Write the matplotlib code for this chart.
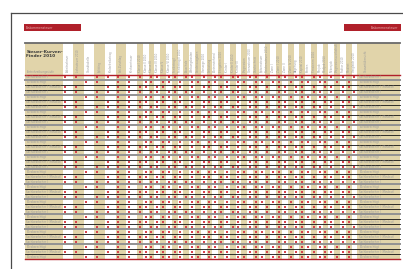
import matplotlib

matplotlib.use("Agg")

import matplotlib.pyplot as plt
from matplotlib.patches import Rectangle

# --- data -------------------------------------------------------------
TITLE = "Steuer-Kurven-\nFinder 2010"
SECTION = "Einkommensteuer"
HEADER_NOTE = "Fortschreibungsstufe"

wide_labels = [
    "Arbeitnehmer", "Lohnsteuer 2010", "Grundtabelle", "Splitting",
    "Kinderfreibetrag", "Soli-Zuschlag", "Kirchensteuer",
]
narrow_labels = [
    "Klasse I 2010", "Klasse II 2010", "Klasse III", "Klasse IV 2010",
    "Klasse V", "Klasse VI 2010", "Freibetrag I", "Freibetrag II 2010",
    "Pauschale", "Werbungskosten", "Sonderausgaben", "Vorsorge 2010",
    "Entlastung", "Alleinerziehend", "Ehegatten 2010", "Kinder I",
    "Kinder II 2010", "Kinder III", "Progression", "Grenzsteuer 2010",
    "Durchschnitt", "Spitzensteuer", "Reichensteuer 2010", "Zone I",
    "Zone II 2010", "Zone III", "Zone IV 2010", "Abgeltung",
    "Kapital 2010", "Renten", "Pensionen 2010", "Minijob",
    "Midijob 2010", "Nebenjob", "Progressionsvorbehalt", "Faktor 2010",
    "Mindest", "Vergleich 2010",
]
LAST_LABEL = "Gesamtübersicht"

row_kind_labels = [
    "Sachbearbeiter I",
    "Büroberechtigt",
    "Sachbearbeiter I (Mindest)",
]
# kind of each table row (0, 1, 2 -> label + dot pattern)
row_kinds = [
    0, 1, 2, 0, 1, 2, 0, 1, 2, 0, 1, 2, 0, 1, 2, 0, 1, 2, 0,
    1, 2, 0, 1, 2, 0, 1, 2, 0, 1, 2, 0, 1, 2, 0, 1, 2, 1,
]
# 'x' = marked cell, 7 wide columns then 38 narrow columns
dot_patterns = [
    "xx.xxxx" + "x.xx.xx.xx.x.xx.xx.xx.x.xx.xx.xx.x.x.x",
    "..xx.xx" + ".xx.xx.x.xx.xx.x.xx.xx.xx.x.xx.xx.x.x.",
    "xx..xxx" + "xx.xx.xx.x.xx.xx.x.xx.x.xx.xx.x.xx.xx.",
]
# separator drawn under each row: 'k' black, 'g' gray band
separators = "gkkgkkgkkgkkgkkgkkgkkgkkgkkgkkgkkgkk"

# --- layout -----------------------------------------------------------
W, H = 403, 269
TAN = "#e1d4aa"
RED = "#b0202a"
GRAY = "#929292"
TXT = "#9a9a9a"

x0, label_w = 25.0, 37.5
wide_w, narrow_w = 10.64, 5.80
right_w = 43.0
top, head_bot, bot = 43.0, 75.0, 259.0

col_lefts, col_widths = [], []
x = x0 + label_w
for _ in wide_labels:
    col_lefts.append(x)
    col_widths.append(wide_w)
    x += wide_w
for _ in narrow_labels:
    col_lefts.append(x)
    col_widths.append(narrow_w)
    x += narrow_w
right_x = x
table_right = right_x + right_w
col_labels = wide_labels + narrow_labels
n_rows = len(row_kinds)
row_h = (bot - head_bot) / n_rows

fig = plt.figure(figsize=(W / 100, H / 100), dpi=100)
ax = fig.add_axes([0, 0, 1, 1])
ax.set_xlim(0, W)
ax.set_ylim(H, 0)
ax.axis("off")

# page frame
ax.plot([10.5, W], [12.5, 12.5], color="#4a4a4a", lw=0.9)
ax.plot([10.5, 10.5], [12.5, H], color="#4a4a4a", lw=0.9)

# section tabs
ax.add_patch(Rectangle((24, 24), 57, 7, color=RED, lw=0))
ax.text(26, 27.7, SECTION, fontsize=2.2, color="#e8b0b0", va="center", ha="left")
ax.add_patch(Rectangle((344, 24), 57, 7, color=RED, lw=0))
ax.text(398, 27.7, SECTION, fontsize=2.2, color="#e8b0b0", va="center", ha="right")

# label columns
ax.add_patch(Rectangle((x0, top), label_w, bot - top, color=TAN, lw=0))
ax.add_patch(Rectangle((right_x, top), right_w, bot - top, color=TAN, lw=0))

# data columns (alternating white / tan)
for i, (cl, cw) in enumerate(zip(col_lefts, col_widths)):
    wide = i < len(wide_labels)
    tan = (i % 2 == 1) if wide else ((i - len(wide_labels)) % 2 == 0)
    if tan:
        ax.add_patch(Rectangle((cl, top), cw, bot - top, color=TAN, lw=0))
    ax.text(cl + cw / 2, head_bot - 3.5, col_labels[i], rotation=90,
            fontsize=1.9, color=TXT, ha="center", va="bottom")
ax.text(right_x + 8, head_bot - 3.5, LAST_LABEL, rotation=90,
        fontsize=1.9, color=TXT, ha="center", va="bottom")

# header text
ax.text(x0 + 1.5, 50, TITLE, fontsize=3.1, fontweight="bold", color="#3a3a3a",
        va="top", ha="left", linespacing=1.1)
ax.text(x0 + 1.5, 72, HEADER_NOTE, fontsize=1.9, color=TXT, va="center")

# rows
for r, kind in enumerate(row_kinds):
    y = head_bot + r * row_h
    yc = y + row_h / 2
    label = row_kind_labels[kind]
    ax.text(x0 + 1.5, yc, label, fontsize=1.9, color=TXT, va="center")
    ax.text(right_x + 2, yc, label, fontsize=1.9, color=TXT, va="center")
    pattern = dot_patterns[kind]
    xs = []
    for i, ch in enumerate(pattern):
        if ch == "x":
            wide = i < len(wide_labels)
            xs.append(col_lefts[i] + (2.5 if wide else col_widths[i] / 2))
    ax.scatter(xs, [yc] * len(xs), s=0.8, marker="s", color="#d8444e", lw=0)
    sep = separators[r] if r < len(separators) else "k"
    yb = y + row_h
    if r < n_rows - 1:
        if sep == "g":
            ax.plot([x0, table_right], [yb, yb], color=GRAY, lw=1.4)
        else:
            ax.plot([x0, table_right], [yb, yb], color="#111111", lw=0.6)

# rules
ax.plot([x0, table_right], [top, top], color="#6a6a6a", lw=1.3)
ax.plot([x0, table_right], [head_bot, head_bot], color=RED, lw=1.0)
ax.plot([x0, table_right], [bot, bot], color=RED, lw=1.0)

fig.savefig("out.png", dpi=100)
